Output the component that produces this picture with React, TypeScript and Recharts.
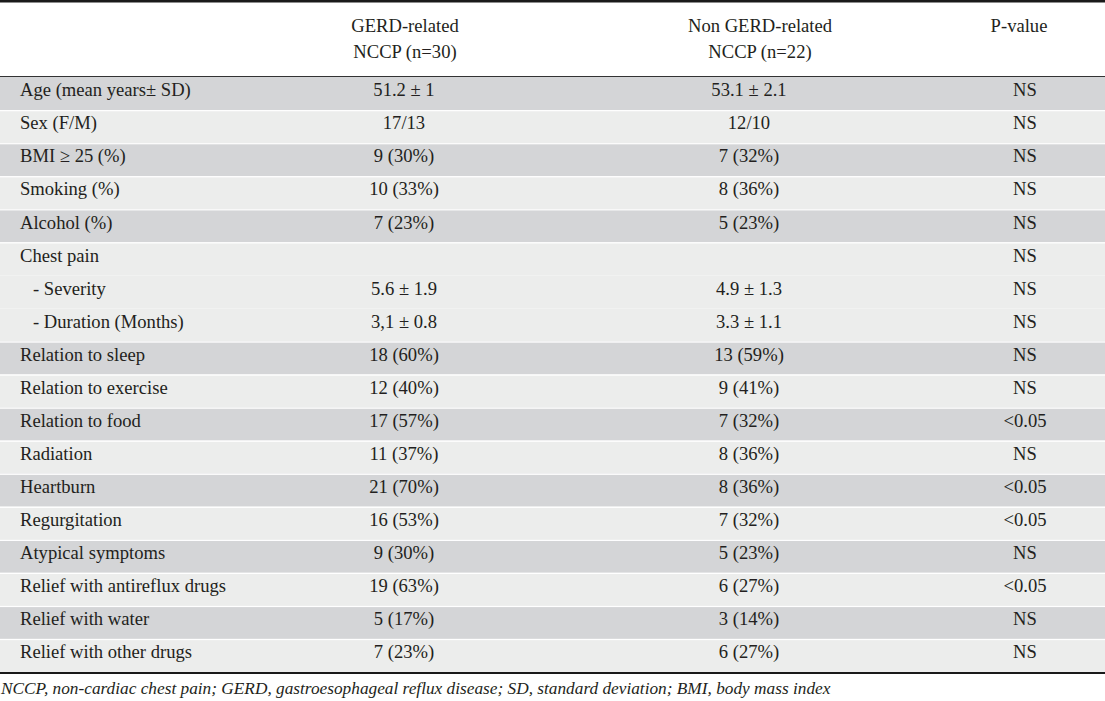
import { Bar, BarChart, Customized, XAxis, YAxis } from "recharts";

const rowLabels = [
  "Age (mean years\u00b1 SD)",
  "Sex (F/M)",
  "BMI \u2265 25 (%)",
  "Smoking (%)",
  "Alcohol (%)",
  "Chest pain",
  "- Severity",
  "- Duration (Months)",
  "Relation to sleep",
  "Relation to exercise",
  "Relation to food",
  "Radiation",
  "Heartburn",
  "Regurgitation",
  "Atypical symptoms",
  "Relief with antireflux drugs",
  "Relief with water",
  "Relief with other drugs",
];

const gerdValues = [
  "51.2 \u00b1 1", "17/13", "9 (30%)", "10 (33%)", "7 (23%)", "",
  "5.6 \u00b1 1.9", "3,1 \u00b1 0.8", "18 (60%)", "12 (40%)", "17 (57%)",
  "11 (37%)", "21 (70%)", "16 (53%)", "9 (30%)", "19 (63%)", "5 (17%)", "7 (23%)",
];

const nonGerdValues = [
  "53.1 \u00b1 2.1", "12/10", "7 (32%)", "8 (36%)", "5 (23%)", "",
  "4.9 \u00b1 1.3", "3.3 \u00b1 1.1", "13 (59%)", "9 (41%)", "7 (32%)",
  "8 (36%)", "8 (36%)", "7 (32%)", "5 (23%)", "6 (27%)", "3 (14%)", "6 (27%)",
];

const pValues = [
  "NS", "NS", "NS", "NS", "NS", "NS", "NS", "NS", "NS", "NS", "<0.05",
  "NS", "<0.05", "<0.05", "NS", "<0.05", "NS", "NS",
];

// rows sharing a group number share one shaded band
const rowGroups = [0, 1, 2, 3, 4, 5, 5, 5, 6, 7, 8, 9, 10, 11, 12, 13, 14, 15];

const headers = [
  ["GERD-related", "NCCP (n=30)"],
  ["Non GERD-related", "NCCP (n=22)"],
  ["P-value"],
];

const footnote =
  "NCCP, non-cardiac chest pain; GERD, gastroesophageal reflux disease; SD, standard deviation; BMI, body mass index";

const rows = rowLabels.map((label, i) => ({
  label,
  gerd: gerdValues[i],
  nonGerd: nonGerdValues[i],
  p: pValues[i],
  group: rowGroups[i],
  band: 1,
}));

const W = 1105;
const H = 701;
const FONT = "'Liberation Serif', 'Times New Roman', serif";
const TEXT = "#231f20";
const FS = 18.6;
const COL_X = [404, 749, 1025];
const HEAD_X = [405, 760, 1019];

const RowShape = (props: any) => {
  const { y, height, payload, index } = props;
  const dark = payload.group % 2 === 0;
  const newGroup = index > 0 && rows[index - 1].group !== payload.group;
  const base = y + height / 2 + 2.8;
  const indent = payload.label.startsWith("-");
  return (
    <g>
      <rect x={0} y={y} width={W} height={height} fill={dark ? "#d4d5d7" : "#ecedec"} />
      {newGroup && <rect x={0} y={y} width={W} height={1.2} fill="#ffffff" />}
      <text x={indent ? 33 : 20} y={base} fontSize={FS} fill={TEXT} fontFamily={FONT}>
        {payload.label}
      </text>
      {[payload.gerd, payload.nonGerd, payload.p].map((v: string, k: number) => (
        <text key={k} x={COL_X[k]} y={base} fontSize={FS} fill={TEXT} fontFamily={FONT} textAnchor="middle">
          {v}
        </text>
      ))}
    </g>
  );
};

const Frame = () => (
  <g fontFamily={FONT} fill={TEXT}>
    <rect x={0} y={0} width={W} height={2.5} fill="#1a1a1a" />
    {headers.map((lines, k) =>
      lines.map((t, j) => (
        <text key={`${k}-${j}`} x={HEAD_X[k]} y={32 + j * 25.5} fontSize={FS} textAnchor="middle">
          {t}
        </text>
      ))
    )}
    <rect x={0} y={76} width={W} height={1} fill="#333333" />
    <rect x={0} y={672} width={W} height={2} fill="#1a1a1a" />
    <text x={1} y={694} fontSize={17.3} fontStyle="italic">
      {footnote}
    </text>
  </g>
);

export default function App() {
  return (
    <div style={{ width: W, height: H, background: "#fff" }}>
      <style>{`body{margin:0}`}</style>
      <BarChart
        width={W}
        height={H}
        data={rows}
        layout="vertical"
        margin={{ top: 77, right: 0, bottom: 29, left: 0 }}
        barCategoryGap={0}
      >
        <XAxis type="number" domain={[0, 1]} hide />
        <YAxis type="category" dataKey="label" hide />
        <Bar dataKey="band" shape={<RowShape />} isAnimationActive={false} />
        <Customized component={<Frame />} />
      </BarChart>
    </div>
  );
}
